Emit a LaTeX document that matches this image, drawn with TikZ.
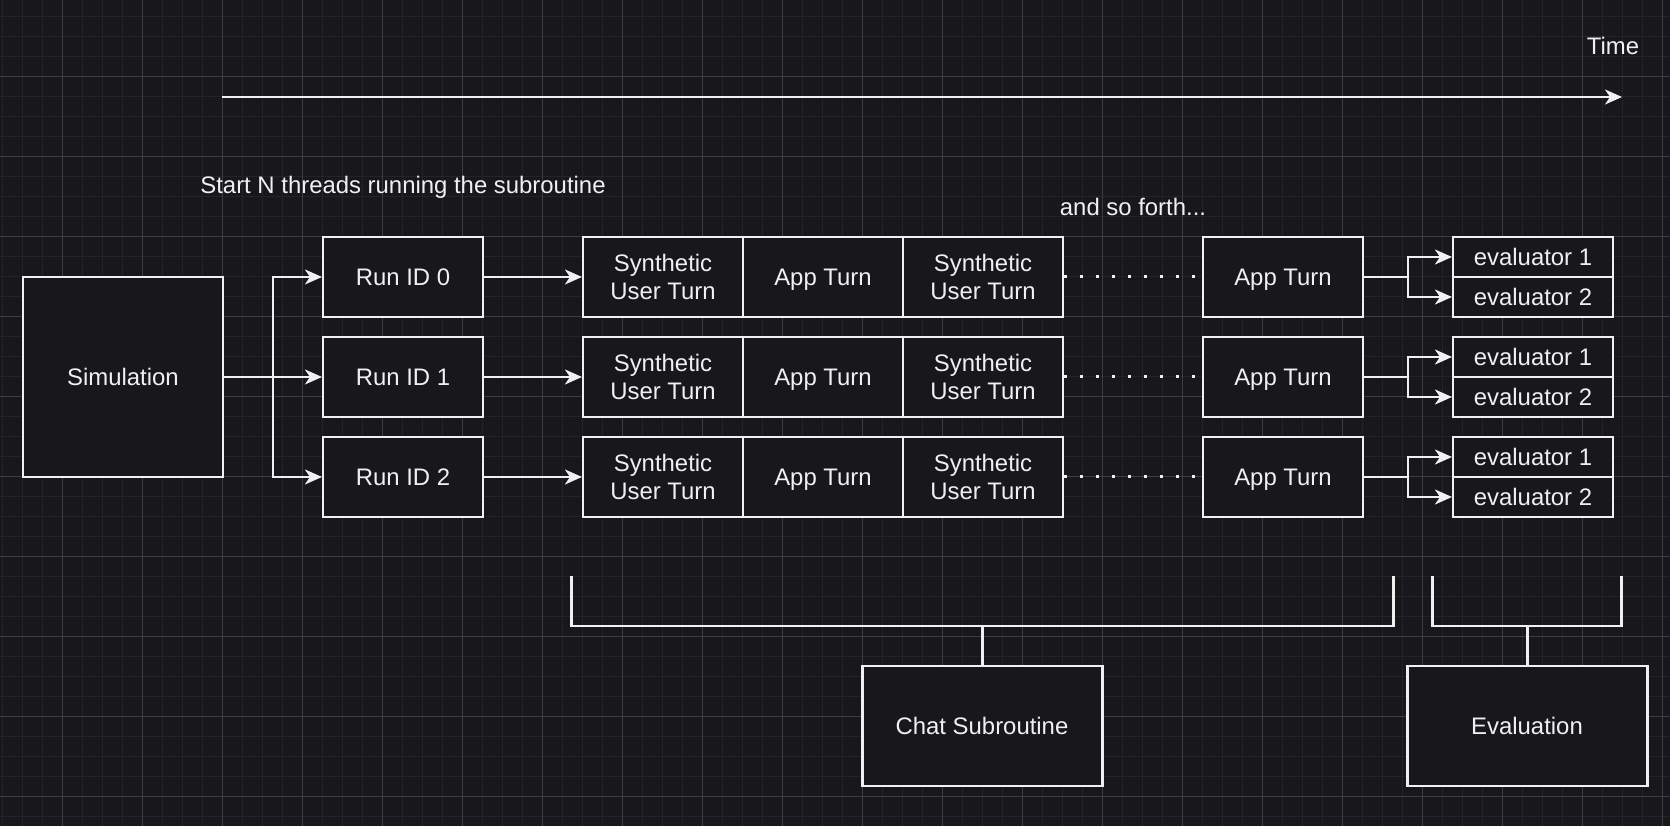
\documentclass[tikz,border=0pt]{standalone}
\usepackage{fontspec}
\setmainfont{Liberation Sans}
\usetikzlibrary{arrows.meta,positioning,calc}
\definecolor{canvas}{RGB}{24,23,28}
\definecolor{gridminor}{RGB}{36,35,41}
\definecolor{gridmajor}{RGB}{62,62,66}
\definecolor{ink}{RGB}{240,240,240}

\begin{document}
\begin{tikzpicture}[x=0.1mm,y=-0.1mm,
font=\fontsize{6.8pt}{7.9pt}\selectfont, text=ink,
frame/.style={draw=ink, fill=canvas, line width=0.6pt, minimum width=16mm, minimum height=8mm, inner sep=0pt, align=center},
box/.style={frame, text height=4.9pt, text depth=0pt},
evbox/.style={box, minimum height=4mm},
bigbox/.style={box, line width=0.85pt, minimum width=24mm, minimum height=12mm},
link/.style={draw=ink, line width=0.6pt, -{Stealth[length=1.7mm,width=1.5mm,inset=0.5mm]}},
wire/.style={draw=ink, line width=0.6pt},
brace/.style={draw=ink, line width=0.85pt},
dots/.style={draw=ink, line width=0.85pt, dash pattern=on 0.3mm off 1.3mm}]

% background grid
\useasboundingbox[fill=canvas] (0,0) rectangle (1670,826);
\foreach \i in {0,...,83} \draw[gridminor, line width=0.3pt] ({2.7+20*\i},0) -- ({2.7+20*\i},826);
\foreach \j in {0,...,40} \draw[gridminor, line width=0.3pt] (0,{16.3+20*\j}) -- (1670,{16.3+20*\j});
\foreach \i in {0,...,20} \draw[gridmajor, line width=0.3pt] ({62.7+80*\i},0) -- ({62.7+80*\i},826);
\foreach \j in {0,...,9} \draw[gridmajor, line width=0.3pt] (0,{76.3+80*\j}) -- (1670,{76.3+80*\j});

% time axis
\coordinate (t0) at (222,97);
\coordinate (t1) at (1622,97);
\draw[link] (t0) -- (t1);
\node (time) at (1613,46) {Time};

\node (start) at (403,187) {Start N threads running the subroutine};
\node (forth) at (1133,207) {and so forth...};

\node[box, minimum width=20mm, minimum height=20mm] (sim) at (123,377) {Simulation};
\coordinate (fork) at (273,377);
\draw[wire] (sim.east) -- (fork);

\foreach \r/\y in {0/277,1/377,2/477}{
  \node[box] (run\r) at (403,\y) {Run ID \r};
  \node[frame] (su\r a) at (663,\y) {Synthetic\\User Turn};
  \node[box] (app\r a) at (823,\y) {App Turn};
  \node[frame] (su\r b) at (983,\y) {Synthetic\\User Turn};
  \node[box] (app\r n) at (1283,\y) {App Turn};
  \node[evbox] (ev\r a) at (1533,\y-20) {evaluator 1};
  \node[evbox] (ev\r b) at (1533,\y+20) {evaluator 2};
  \coordinate (split\r) at (1408,\y);
  \draw[link] (fork) |- (run\r.west);
  \draw[link] (run\r) -- (su\r a);
  \draw[dots] (su\r b.east) -- (app\r n.west);
  \draw[wire] (app\r n) -- (split\r);
  \draw[link] (split\r) |- (ev\r a.west);
  \draw[link] (split\r) |- (ev\r b.west);
}

% brackets
\draw[brace] (571,576) -- (571,626) -- (1393,626) -- (1393,576);
\coordinate (chatmid) at (982,626);
\node[bigbox] (chat) at (982,726) {Chat Subroutine};
\draw[brace] (chatmid) -- (chat);

\draw[brace] (1432,576) -- (1432,626) -- (1621,626) -- (1621,576);
\coordinate (evalmid) at (1527,626);
\node[bigbox] (eval) at (1527,726) {Evaluation};
\draw[brace] (evalmid) -- (eval);
\end{tikzpicture}
\end{document}
